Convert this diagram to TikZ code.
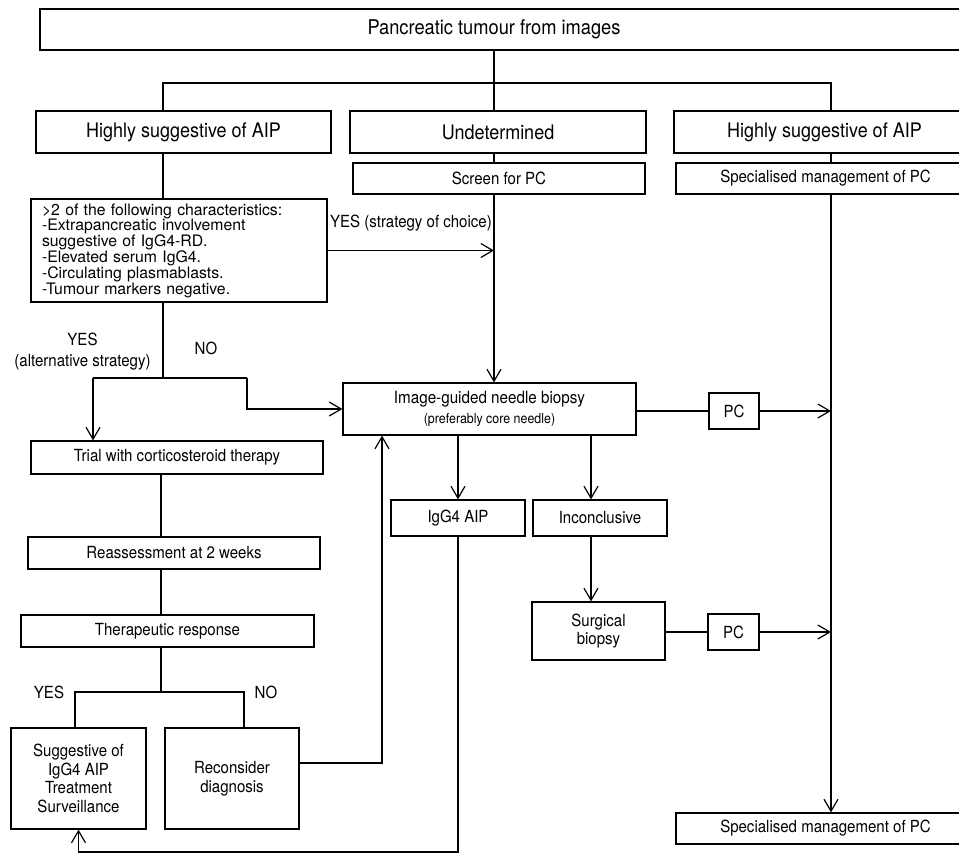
\documentclass[tikz,border=0pt]{standalone}
\usepackage{fontspec}
\setmainfont{TeX Gyre Heros}[FakeStretch=0.9]
\newfontfamily\critfont{TeX Gyre Heros}
\usetikzlibrary{arrows.meta}
\begin{document}
\begin{tikzpicture}[x=1pt,y=-1pt,
  box/.style={draw, line width=1.2pt, inner sep=0pt, align=center, font=\fontsize{16.7}{18.7}\selectfont},
  big/.style={font=\fontsize{20}{22}\selectfont},
  lbl/.style={inner sep=0pt, align=center, font=\fontsize{16.7}{21}\selectfont},
  line/.style={line width=1.2pt},
  arr/.style={line width=1.2pt, -{Straight Barb[length=12pt,width=14pt]}}]
\useasboundingbox (0,0) rectangle (959,854);
% boxes
\node[box, minimum width=935pt, minimum height=41pt] (top) at (507.5,29.5) {};
\node[inner sep=0pt, font=\fontsize{20.3}{22}\selectfont] (toptext) at (494,29.5) {Pancreatic tumour from images};
\node[box, big, minimum width=295pt, minimum height=42pt] (L1) at (183.5,132) {Highly suggestive of AIP};
\node[box, big, minimum width=296pt, minimum height=42pt] (M1) at (498,132) {Undetermined};
\node[box, big, minimum width=301pt, minimum height=42pt] (R1) at (824.5,132) {Highly suggestive of AIP};
\node[box, minimum width=292pt, minimum height=31pt] (screen) at (499,178.5) {Screen for PC};
\node[box, minimum width=299pt, minimum height=31pt] (spec1) at (825.5,178.5) {Specialised management of PC};
\node[box, minimum width=296pt, minimum height=103pt, text width=274pt, align=left,
      font=\critfont\fontsize{15.8}{15.8}\selectfont] (crit) at (179,250.5)
  {>2 of the following characteristics:\\-Extrapancreatic involvement\\suggestive of IgG4-RD.\\-Elevated serum IgG4.\\-Circulating plasmablasts.\\-Tumour markers negative.};
\node[box, minimum width=293pt, minimum height=52pt, font=\fontsize{16.9}{20}\selectfont] (img) at (489.5,409)
  {Image-guided needle biopsy\\{\fontsize{13.8}{15}\selectfont (preferably core needle)}};
\node[box, minimum width=50pt, minimum height=36pt] (pc1) at (734,411) {PC};
\node[box, minimum width=134pt, minimum height=36pt] (igg) at (458,518) {IgG4 AIP};
\node[box, minimum width=134pt, minimum height=36pt] (inc) at (600,518) {Inconclusive};
\node[box, minimum width=133pt, minimum height=58pt, font=\fontsize{16.7}{17.5}\selectfont] (surg) at (598.5,631) {Surgical\\biopsy};
\node[box, minimum width=51pt, minimum height=36pt] (pc2) at (733.5,632) {PC};
\node[box, minimum width=299pt, minimum height=31pt] (spec2) at (825.5,828.5) {Specialised management of PC};
\node[box, minimum width=292pt, minimum height=33pt] (trial) at (177,457.5) {Trial with corticosteroid therapy};
\node[box, minimum width=292pt, minimum height=32pt] (reass) at (174,553) {Reassessment at 2 weeks};
\node[box, minimum width=293pt, minimum height=32pt] (ther) at (167.5,631) {Therapeutic response};
\node[box, minimum width=135pt, minimum height=101pt] (sugg) at (78.5,778.5) {Suggestive of\\IgG4 AIP\\Treatment\\Surveillance};
\node[box, minimum width=134pt, minimum height=101pt] (recon) at (232,778.5) {Reconsider\\diagnosis};
% labels
\node[lbl, anchor=east] (yes1) at (492,223) {YES (strategy of choice)};
\node[lbl] (yes2) at (82.5,351.5) {YES\\(alternative strategy)};
\node[lbl] (no1) at (206,348) {NO};
\node[lbl] (yes3) at (49,692) {YES};
\node[lbl] (no2) at (266,692) {NO};
% junction points
\coordinate (j0) at (494,83);
\coordinate (lx) at (163,83);
\coordinate (rx) at (831,83);
\coordinate (j1) at (163,378);
\coordinate (ya) at (93,378);
\coordinate (na) at (247,378);
\coordinate (tc) at (161,692);
\coordinate (yb) at (75,692);
\coordinate (nb) at (244,692);
\coordinate (rc) at (382,763);
\coordinate (ic) at (591,0);
\coordinate (bt) at (458,852);
% connectors
\draw[line] (j0 |- top.south) -- (j0) -- (j0 |- M1.north);
\draw[line] (lx |- L1.north) -- (lx) -- (rx) -- (rx |- R1.north);
\draw[line] (j0 |- M1.south) -- (j0 |- screen.north);
\draw[arr] (j0 |- screen.south) -- (j0 |- img.north);
\draw[line] (rx |- R1.south) -- (rx |- spec1.north);
\draw[arr] (rx |- spec1.south) -- (rx |- spec2.north);
\draw[line] (lx |- L1.south) -- (lx |- crit.north);
\draw[arr] (crit.east) -- (crit.east -| j0);
\draw[line] (lx |- crit.south) -- (j1);
\draw[line] (ya) -- (na);
\draw[arr] (ya) -- (ya |- trial.north);
\draw[arr] (na) |- (img.west);
\draw[line] (tc |- trial.south) -- (tc |- reass.north);
\draw[line] (tc |- reass.south) -- (tc |- ther.north);
\draw[line] (tc |- ther.south) -- (tc);
\draw[line] (yb |- sugg.north) -- (yb) -- (nb) -- (nb |- recon.north);
\draw[arr] (recon.east |- rc) -- (rc) -- (rc |- img.south);
\draw[arr] (igg.north |- img.south) -- (igg.north);
\draw[arr] (ic |- img.south) -- (ic |- inc.north);
\draw[arr] (ic |- inc.south) -- (ic |- surg.north);
\draw[line] (img.east |- pc1.west) -- (pc1.west);
\draw[arr] (pc1.east) -- (pc1.east -| rx);
\draw[line] (surg.east |- pc2.west) -- (pc2.west);
\draw[arr] (pc2.east) -- (pc2.east -| rx);
\draw[arr] (igg.south) -- (bt) -| (sugg.south);
\end{tikzpicture}
\end{document}
